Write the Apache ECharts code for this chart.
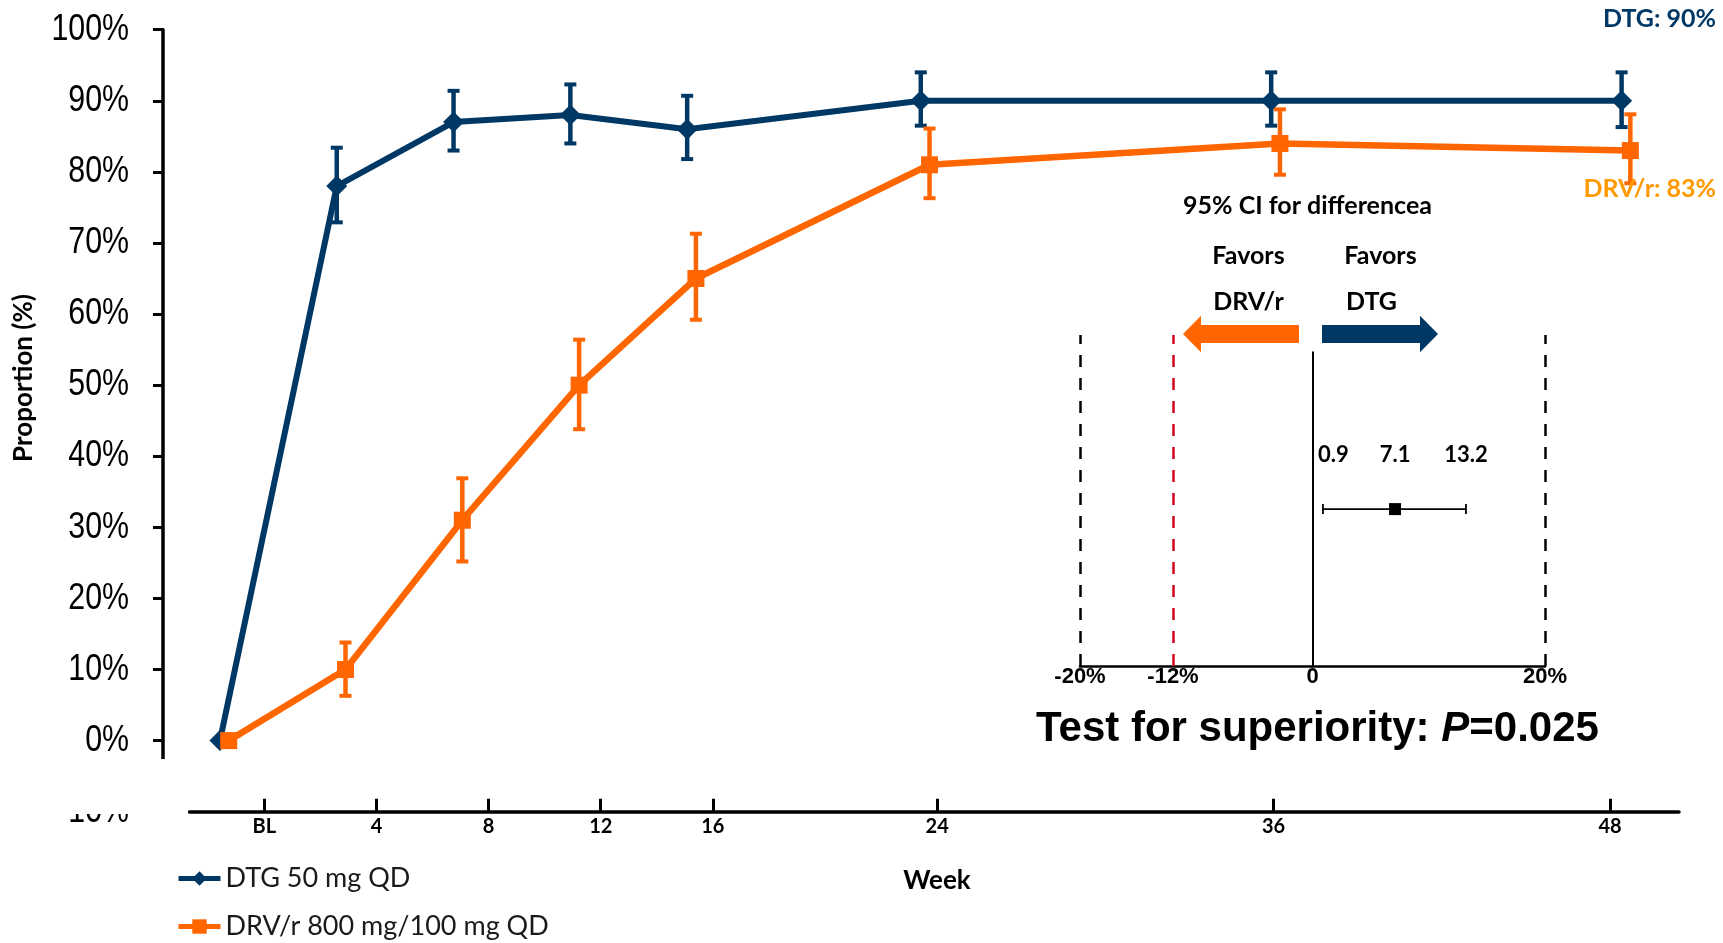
<!DOCTYPE html>
<html>
<head>
<meta charset="utf-8">
<title>DTG vs DRV/r - proportion over time</title>
<script src="https://cdn.jsdelivr.net/npm/echarts@6.0.0/dist/echarts.min.js"></script>
<style>
  html, body { margin: 0; padding: 0; background: #fff; }
  #chart { width: 1723px; height: 943px; }
</style>
</head>
<body>
<div id="chart"></div>
<script>
// weeks on study
const weeks = [0, 4, 8, 12, 16, 24, 36, 48];

// DTG 50 mg QD, proportion (%) with error bar ends
const dtgPct  = [0, 78, 87, 88, 86, 90, 90, 90];
const dtgLow  = [null, 72.9, 83.0, 84.0, 81.8, 86.5, 86.5, 86.3];
const dtgHigh = [null, 83.4, 91.4, 92.3, 90.7, 94.0, 94.0, 94.0];

// DRV/r 800 mg/100 mg QD
const drvPct  = [0, 10, 31, 50, 65, 81, 84, 83];
const drvLow  = [null, 6.3, 25.2, 43.8, 59.2, 76.3, 79.6, 78.4];
const drvHigh = [null, 13.8, 36.9, 56.4, 71.3, 86.1, 88.8, 88.1];

// axes
const pctTicks = [-10, 0, 10, 20, 30, 40, 50, 60, 70, 80, 90, 100];
const weekTicks = [0, 4, 8, 12, 16, 24, 36, 48];
const weekTickLabels = ['BL', '4', '8', '12', '16', '24', '36', '48'];

// inset: 95% CI for difference
const ciLow = 0.9, ciEst = 7.1, ciHigh = 13.2;
const insetTicks = [-20, -12, 0, 20];
const insetTickLabels = ['-20%', '-12%', '0', '20%'];
const marginLines = [-20, 20];
const niMargin = -12;

const NAVY = '#003865';
const ORANGE = '#ff6600';
const AMBER = '#ff9900';
const drvDodge = 0.3;   // small horizontal dodge so the two series don't overlap
const ciRow = 0.474;    // vertical place of the CI whisker inside the inset
const zeroTop = 0.95;
const xMin = -1.95;

const chart = echarts.init(document.getElementById('chart'));

function errorBars(color) {
  return function (params, api) {
    const x = api.value(0);
    const top = api.coord([x, api.value(2)]);
    const bot = api.coord([x, api.value(1)]);
    const h = 6;
    return {
      type: 'group',
      children: [
        { type: 'line', shape: { x1: top[0], y1: top[1], x2: bot[0], y2: bot[1] }, style: { stroke: color, lineWidth: 4.5 } },
        { type: 'line', shape: { x1: top[0] - h, y1: top[1], x2: top[0] + h, y2: top[1] }, style: { stroke: color, lineWidth: 4 } },
        { type: 'line', shape: { x1: bot[0] - h, y1: bot[1], x2: bot[0] + h, y2: bot[1] }, style: { stroke: color, lineWidth: 4 } }
      ]
    };
  };
}

const labelFont = 'Lato';
const bold = { fontFamily: labelFont, fontWeight: 'bold', fill: '#000' };

function legendFor(name, top) {
  return {
    data: [name], orient: 'vertical', left: 176, top: top, padding: 0,
    itemWidth: 42, itemHeight: 18,
    lineStyle: { width: 5 },
    textStyle: { fontFamily: labelFont, fontSize: 27, color: '#1a1a1a' }
  };
}

const option = {
  animation: false,
  backgroundColor: '#fff',
  grid: [
    { left: 163, top: 29.7, width: 1517, height: 782 },
    { left: 189.3, top: 29.7, width: 1489.7, height: 782 },
    { left: 1080, top: 335, width: 465, height: 331 }
  ],
  xAxis: [
    { gridIndex: 0, type: 'value', min: xMin, max: 50, show: false },
    {
      gridIndex: 1, type: 'value', min: -2.675, max: 50.46,
      axisLine: { lineStyle: { color: '#000', width: 3.5 } },
      axisTick: { inside: true, length: 13, lineStyle: { color: '#000', width: 3 }, customValues: weekTicks },
      axisLabel: {
        customValues: weekTicks, margin: 5, color: '#000',
        fontFamily: labelFont, fontWeight: 'bold', fontSize: 20,
        formatter: v => weekTickLabels[weekTicks.indexOf(v)]
      },
      splitLine: { show: false }
    },
    {
      gridIndex: 2, type: 'value', min: -20, max: 20,
      axisLine: { lineStyle: { color: '#000', width: 2.5 } },
      axisTick: { show: false },
      axisLabel: {
        customValues: insetTicks, margin: 0, color: '#000',
        fontFamily: 'Liberation Sans', fontWeight: 'bold', fontSize: 22,
        formatter: v => insetTickLabels[insetTicks.indexOf(v)]
      },
      splitLine: { show: false }
    }
  ],
  yAxis: [
    {
      gridIndex: 0, type: 'value', min: -10, max: 100, interval: 10,
      axisLine: { show: true, onZero: false, lineStyle: { color: '#000', width: 3.5 } },
      axisTick: { show: true, length: 10, lineStyle: { color: '#000', width: 3 } },
      axisLabel: { show: false },
      splitLine: { show: false }
    },
    { gridIndex: 1, type: 'value', min: 0, max: 1, show: false },
    { gridIndex: 2, type: 'value', min: 0, max: 1, show: false }
  ],
  legend: [
    legendFor('DTG 50 mg QD', 865),
    legendFor('DRV/r 800 mg/100 mg QD', 913)
  ],
  series: [
    {
      // condensed y tick labels
      type: 'custom', xAxisIndex: 0, yAxisIndex: 0, silent: true,
      encode: { y: 0 },
      data: pctTicks.map(v => [v]),
      renderItem: function (params, api) {
        const p = api.coord([xMin, api.value(0)]);
        return {
          type: 'text', x: p[0] - 34, y: p[1], scaleX: 0.82,
          style: { text: api.value(0) + '%', fill: '#000', fontFamily: 'Liberation Sans', fontSize: 37, align: 'right', verticalAlign: 'middle' }
        };
      }
    },
    {
      name: 'DTG 50 mg QD', type: 'line', xAxisIndex: 0, yAxisIndex: 0,
      data: weeks.map((w, i) => [w, dtgPct[i]]),
      symbol: 'diamond', symbolSize: 21,
      lineStyle: { color: NAVY, width: 6 }, itemStyle: { color: NAVY }
    },
    {
      type: 'custom', xAxisIndex: 0, yAxisIndex: 0,
      renderItem: errorBars(NAVY),
      encode: { x: 0, y: [1, 2] },
      data: weeks.map((w, i) => [w, dtgLow[i], dtgHigh[i]]).filter(d => d[1] !== null)
    },
    {
      name: 'DRV/r 800 mg/100 mg QD', type: 'line', xAxisIndex: 0, yAxisIndex: 0,
      data: weeks.map((w, i) => [w + drvDodge, drvPct[i]]),
      symbol: 'rect', symbolSize: 17,
      lineStyle: { color: ORANGE, width: 6.5 }, itemStyle: { color: ORANGE }
    },
    {
      type: 'custom', xAxisIndex: 0, yAxisIndex: 0,
      renderItem: errorBars(ORANGE),
      encode: { x: 0, y: [1, 2] },
      data: weeks.map((w, i) => [w + drvDodge, drvLow[i], drvHigh[i]]).filter(d => d[1] !== null)
    },
    {
      type: 'line', xAxisIndex: 2, yAxisIndex: 2, data: [],
      markLine: {
        silent: true, symbol: 'none', label: { show: false },
        lineStyle: { color: '#000', width: 2.5, type: [12, 11] },
        data: marginLines.map(v => ({ xAxis: v }))
      }
    },
    {
      type: 'line', xAxisIndex: 2, yAxisIndex: 2, data: [],
      markLine: {
        silent: true, symbol: 'none', label: { show: false },
        lineStyle: { color: '#d0021b', width: 2.5, type: [12, 11] },
        data: [{ xAxis: niMargin }]
      }
    },
    {
      type: 'line', xAxisIndex: 2, yAxisIndex: 2, data: [],
      markLine: {
        silent: true, symbol: 'none', label: { show: false },
        lineStyle: { color: '#000', width: 2, type: 'solid' },
        data: [[{ coord: [0, 0] }, { coord: [0, zeroTop] }]]
      }
    },
    {
      type: 'custom', xAxisIndex: 2, yAxisIndex: 2,
      encode: { x: [0, 1, 2] },
      data: [[ciLow, ciEst, ciHigh]],
      renderItem: function (params, api) {
        const lo = api.coord([api.value(0), ciRow]);
        const mid = api.coord([api.value(1), ciRow]);
        const hi = api.coord([api.value(2), ciRow]);
        const c = 5, s = 12, ly = lo[1] - 54;
        const txt = (x, t, align) => ({
          type: 'text', x: x, y: ly,
          style: { text: t, fill: '#000', fontFamily: labelFont, fontWeight: 'bold', fontSize: 22, align: align, verticalAlign: 'middle' }
        });
        return {
          type: 'group',
          children: [
            { type: 'line', shape: { x1: lo[0], y1: lo[1], x2: hi[0], y2: hi[1] }, style: { stroke: '#000', lineWidth: 1.8 } },
            { type: 'line', shape: { x1: lo[0], y1: lo[1] - c, x2: lo[0], y2: lo[1] + c }, style: { stroke: '#000', lineWidth: 1.8 } },
            { type: 'line', shape: { x1: hi[0], y1: hi[1] - c, x2: hi[0], y2: hi[1] + c }, style: { stroke: '#000', lineWidth: 1.8 } },
            { type: 'rect', shape: { x: mid[0] - s / 2, y: mid[1] - s / 2, width: s, height: s }, style: { fill: '#000' } },
            txt(lo[0] - 5, String(ciLow), 'left'),
            txt(mid[0], String(ciEst), 'center'),
            txt(hi[0], String(ciHigh), 'center')
          ]
        };
      }
    }
  ],
  graphic: [
    // hides the lower end of the y axis, its -10% tick and most of its label
    { type: 'rect', z: 100, shape: { x: 0, y: 759, width: 188, height: 55 }, style: { fill: '#fff' } },
    {
      type: 'polygon', z: 50,
      shape: { points: [[1183, 334], [1201, 315.7], [1201, 325], [1299, 325], [1299, 343], [1201, 343], [1201, 352.3]] },
      style: { fill: ORANGE }
    },
    {
      type: 'polygon', z: 50,
      shape: { points: [[1322, 325], [1420, 325], [1420, 315.7], [1438, 334], [1420, 352.3], [1420, 343], [1322, 343]] },
      style: { fill: NAVY }
    },
    { type: 'text', z: 50, x: 24, y: 378, rotation: Math.PI / 2,
      style: Object.assign({ text: 'Proportion (%)', fontSize: 26, align: 'center', verticalAlign: 'middle' }, bold) },
    { type: 'text', z: 50, x: 937, y: 881,
      style: Object.assign({ text: 'Week', fontSize: 26, align: 'center', verticalAlign: 'middle' }, bold) },
    { type: 'text', z: 50, x: 1716, y: 19,
      style: { text: 'DTG: 90%', fill: NAVY, fontFamily: labelFont, fontWeight: 'bold', fontSize: 25, align: 'right', verticalAlign: 'middle' } },
    { type: 'text', z: 120, x: 1716, y: 188.5,
      style: { text: 'DRV/r: 83%', fill: AMBER, fontFamily: labelFont, fontWeight: 'bold', fontSize: 25, align: 'right', verticalAlign: 'middle' } },
    { type: 'text', z: 50, x: 1307.5, y: 205.5,
      style: Object.assign({ text: '95% CI for differencea', fontSize: 25, align: 'center', verticalAlign: 'middle' }, bold) },
    { type: 'text', z: 50, x: 1248.5, y: 256,
      style: Object.assign({ text: 'Favors', fontSize: 25, align: 'center', verticalAlign: 'middle' }, bold) },
    { type: 'text', z: 50, x: 1380.5, y: 256,
      style: Object.assign({ text: 'Favors', fontSize: 25, align: 'center', verticalAlign: 'middle' }, bold) },
    { type: 'text', z: 50, x: 1248.5, y: 302,
      style: Object.assign({ text: 'DRV/r', fontSize: 25, align: 'center', verticalAlign: 'middle' }, bold) },
    { type: 'text', z: 50, x: 1371.5, y: 302,
      style: Object.assign({ text: 'DTG', fontSize: 25, align: 'center', verticalAlign: 'middle' }, bold) },
    {
      type: 'text', z: 50, x: 1036, y: 729,
      style: {
        text: '{b|Test for superiority: }{i|P}{b|=0.025}',
        align: 'left', verticalAlign: 'middle',
        rich: {
          b: { fontFamily: 'Liberation Sans', fontWeight: 'bold', fontSize: 42, fill: '#000' },
          i: { fontFamily: 'Liberation Sans', fontWeight: 'bold', fontStyle: 'italic', fontSize: 42, fill: '#000' }
        }
      }
    }
  ]
};

chart.setOption(option);
</script>
</body>
</html>
